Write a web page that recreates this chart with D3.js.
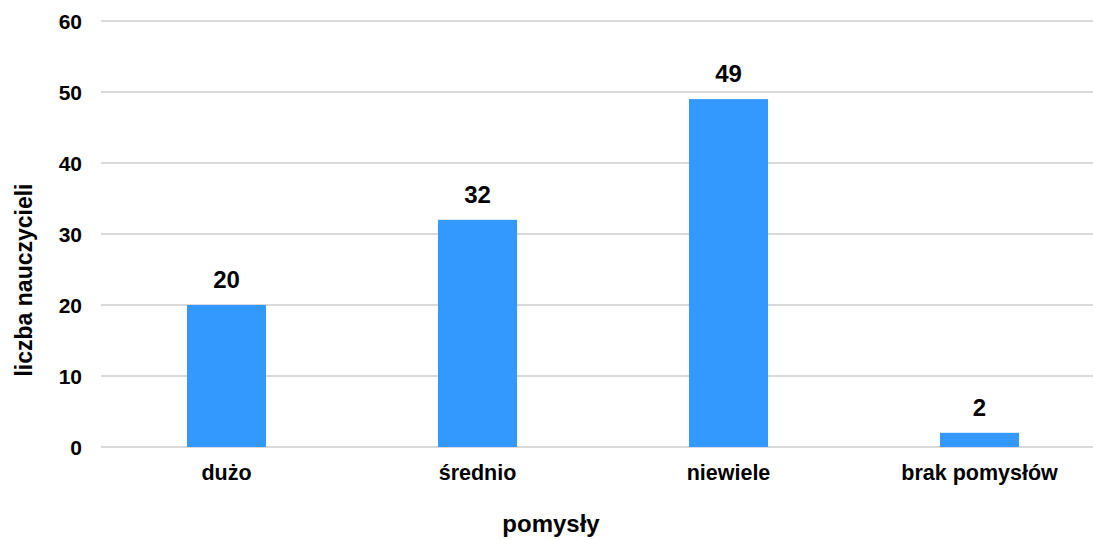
<!DOCTYPE html>
<html><head><meta charset="utf-8">
<script src="https://cdn.jsdelivr.net/npm/d3@7"></script>
<style>body{margin:0;background:#fff}svg{display:block}text{font-family:"Liberation Sans",Arial,sans-serif;font-weight:bold;fill:#000}</style>
</head><body>
<script>
const categories = ["dużo", "średnio", "niewiele", "brak pomysłów"];
const values = [20, 32, 49, 2];
const yTicks = [0, 10, 20, 30, 40, 50, 60];
const xTitle = "pomysły";
const yTitle = "liczba nauczycieli";

const W = 1093, H = 540;
const svg = d3.select("body").append("svg").attr("width", W).attr("height", H);
const x = d3.scaleBand().domain(categories).range([101, 1105]).paddingInner(0.685).paddingOuter(0.3425);
const y = d3.scaleLinear().domain([0, 60]).range([447, 21]);

const grid = svg.append("g");
grid.selectAll("line").data(yTicks).join("line")
  .attr("x1", 101).attr("x2", W)
  .attr("y1", d => y(d)).attr("y2", d => y(d))
  .attr("stroke", "#d9d9d9").attr("stroke-width", 2);

const yAxis = svg.append("g").attr("transform", "translate(82,0)")
  .call(d3.axisLeft(y).tickValues(yTicks).tickSize(0).tickPadding(0));
yAxis.select(".domain").remove();
yAxis.selectAll("text").style("font-size", "21px").attr("dy", "0.36em").attr("fill", "#000");

svg.append("g").selectAll("rect").data(values).join("rect")
  .attr("x", (d, i) => x(categories[i])).attr("width", x.bandwidth())
  .attr("y", d => y(d)).attr("height", d => y(0) - y(d))
  .attr("fill", "#3399ff");

svg.append("g").selectAll("text").data(values).join("text")
  .attr("x", (d, i) => x(categories[i]) + x.bandwidth() / 2)
  .attr("y", d => y(d) - 17)
  .attr("text-anchor", "middle").style("font-size", "24px").text(d => d);

const xAxis = svg.append("g").attr("transform", "translate(0,447)")
  .call(d3.axisBottom(x).tickSize(0).tickPadding(0));
xAxis.select(".domain").remove();
xAxis.selectAll("text").style("font-size", "21.5px").attr("dy", null).attr("y", 33).attr("fill", "#000");

svg.append("text").attr("x", 551).attr("y", 532).attr("text-anchor", "middle")
  .style("font-size", "24px").text(xTitle);
svg.append("text").attr("transform", "translate(32,280) rotate(-90)").attr("text-anchor", "middle")
  .style("font-size", "23px").text(yTitle);
</script>
</body></html>
